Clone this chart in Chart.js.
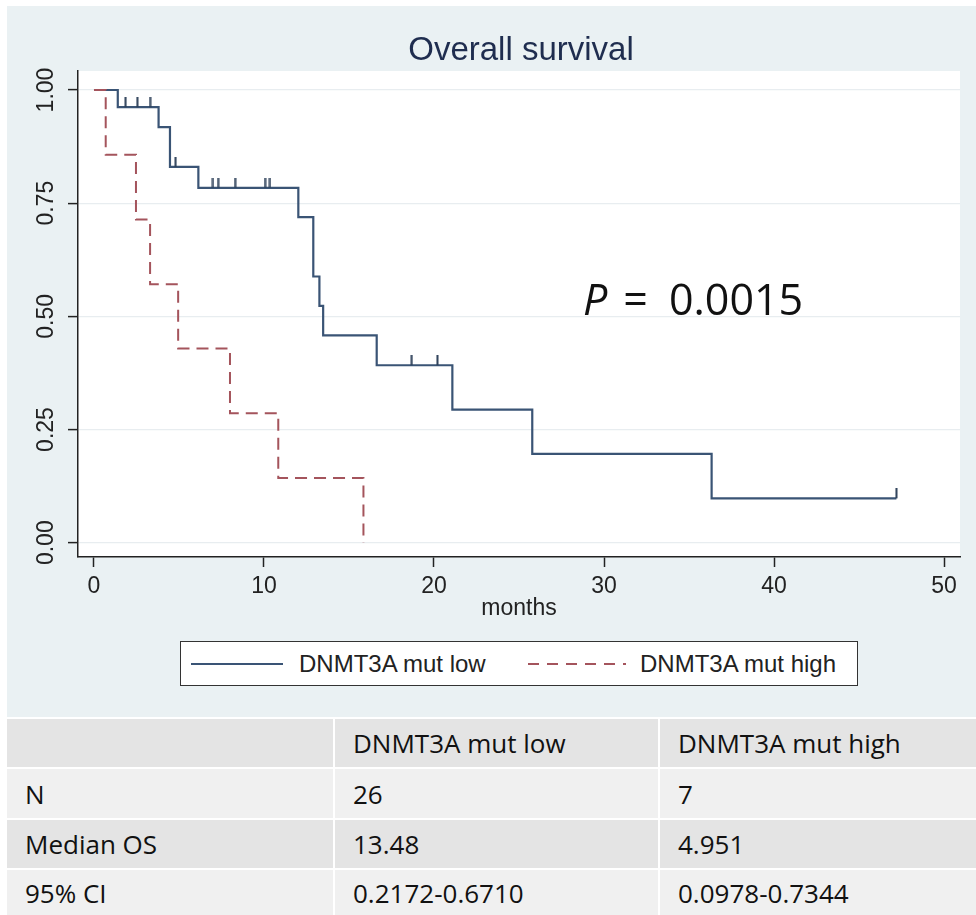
<!DOCTYPE html>
<html>
<head>
<meta charset="utf-8">
<script src="https://cdn.jsdelivr.net/npm/chart.js@4.4.0/dist/chart.umd.min.js"></script>
<style>
body { margin: 0; width: 976px; height: 915px; position: relative; overflow: hidden; background: #fff; font-family: "Liberation Sans", Arial, sans-serif; }
#graph { position: absolute; left: 7px; top: 6px; width: 969px; height: 711px; background: #eaf1f3; }
#wrap { position: absolute; left: 0; top: 0; width: 976px; height: 640px; }
#title { position: absolute; left: 80px; width: 882px; top: 32px; text-align: center; font-size: 33px; line-height: 33px; color: #1f2d4f; }
#pval { position: absolute; left: 583px; top: 277px; font-family: "Open Sans", sans-serif; font-size: 43px; line-height: 43px; color: #111; white-space: pre; }
#pval .eq { margin-left: 16px; margin-right: 21px; }
#legend { position: absolute; left: 180px; top: 641px; width: 676px; height: 43px; border: 1.5px solid #333; background: #fff; font-size: 24px; color: #222; }
#legend svg { position: absolute; top: 0; }
#legend span { position: absolute; top: 8px; line-height: 27px; }
#table { position: absolute; left: 7px; top: 719px; display: grid; grid-template-columns: 326px 323px 316px; grid-template-rows: 48px 49px 48px 45px; gap: 2px; font-family: "Open Sans", sans-serif; font-size: 26px; color: #111; }
#table div { display: flex; align-items: center; padding-left: 18px; background: #f0f0f0; }
#table div.dark { background: #e4e4e4; }
</style>
</head>
<body>
<div id="graph"></div>
<div id="wrap"><canvas id="km" width="976" height="640"></canvas></div>
<div id="title">Overall survival</div>
<div id="pval"><i>P</i><span class="eq">=</span>0.0015</div>
<div id="legend">
  <svg width="676" height="43"><line x1="10" y1="22" x2="102" y2="22" stroke="#3a5475" stroke-width="2"/><line x1="347" y1="22" x2="445" y2="22" stroke="#a4545c" stroke-width="2" stroke-dasharray="11 8"/></svg>
  <span style="left:118px">DNMT3A mut low</span>
  <span style="left:459px">DNMT3A mut high</span>
</div>
<div id="table"></div>
<script>
// Kaplan-Meier steps (months, survival)
const lowTimes = [0, 1.4, 3.8, 4.47, 6.14, 12.02, 12.9, 13.26, 13.48, 16.63, 21.08, 25.78, 36.33, 47.2];
const lowSurv = [1, 0.962, 0.918, 0.830, 0.784, 0.719, 0.588, 0.523, 0.458, 0.392, 0.294, 0.196, 0.098, 0.098];
const lowCensorTimes = [1.86, 2.55, 3.3, 4.8, 7.0, 7.3, 8.3, 10.06, 10.35, 18.69, 20.2, 47.2];
const lowCensorSurv = [0.962, 0.962, 0.962, 0.830, 0.784, 0.784, 0.784, 0.784, 0.784, 0.392, 0.392, 0.098];
const highTimes = [0, 0.69, 2.47, 3.3, 4.951, 8.0, 10.84, 15.85];
const highSurv = [1, 0.857, 0.714, 0.571, 0.429, 0.286, 0.143, 0];

const xTicks = [0, 10, 20, 30, 40, 50];
const yTicks = [0, 0.25, 0.5, 0.75, 1];

const tableHead = ['', 'DNMT3A mut low', 'DNMT3A mut high'];
const tableRows = [
  ['N', '26', '7'],
  ['Median OS', '13.48', '4.951'],
  ['95% CI', '0.2172-0.6710', '0.0978-0.7344']
];

const blue = '#3a5475';
const red = '#a4545c';

const table = document.getElementById('table');
[tableHead].concat(tableRows).forEach((row, i) => {
  row.forEach(txt => {
    const cell = document.createElement('div');
    if (i % 2 === 0) cell.className = 'dark';
    cell.textContent = txt;
    table.appendChild(cell);
  });
});

function toPoints(xs, ys) {
  return xs.map((x, i) => ({ x: x, y: ys[i] }));
}

// censor mark: short vertical tick sitting on top of the curve
const tick = document.createElement('canvas');
tick.width = 3;
tick.height = 20;
const tctx = tick.getContext('2d');
tctx.fillStyle = '#2c3f58';
tctx.fillRect(0.5, 0, 2, 10);

const plotBg = {
  id: 'plotBg',
  beforeDraw(chart) {
    const a = chart.chartArea;
    const ctx = chart.ctx;
    ctx.save();
    ctx.fillStyle = '#fff';
    ctx.fillRect(a.left, a.top, a.right - a.left, a.bottom - a.top);
    ctx.restore();
  }
};

// y tick labels are rotated in the original
const yLabels = {
  id: 'yLabels',
  afterDraw(chart) {
    const scale = chart.scales.y;
    const ctx = chart.ctx;
    ctx.save();
    ctx.fillStyle = '#222';
    ctx.font = '23px "Liberation Sans", Arial, sans-serif';
    ctx.textAlign = 'center';
    ctx.textBaseline = 'middle';
    scale.ticks.forEach(t => {
      const y = scale.getPixelForValue(t.value);
      ctx.save();
      ctx.translate(47, y);
      ctx.rotate(-Math.PI / 2);
      ctx.fillText(t.value.toFixed(2), 0, 0);
      ctx.restore();
    });
    ctx.restore();
  }
};

const ctx = document.getElementById('km').getContext('2d');
new Chart(ctx, {
  type: 'line',
  data: {
    datasets: [
      {
        label: 'censored',
        data: toPoints(lowCensorTimes, lowCensorSurv),
        showLine: false,
        pointStyle: tick,
        pointRadius: 5
      },
      {
        label: 'DNMT3A mut high',
        data: toPoints(highTimes, highSurv),
        stepped: true,
        borderColor: red,
        borderWidth: 2,
        borderDash: [12, 7],
        pointRadius: 0,
        fill: false
      },
      {
        label: 'DNMT3A mut low',
        data: toPoints(lowTimes, lowSurv),
        stepped: true,
        borderColor: blue,
        borderWidth: 2.2,
        pointRadius: 0,
        fill: false
      }
    ]
  },
  options: {
    responsive: false,
    animation: false,
    layout: { padding: { left: 0, top: 71, right: 16, bottom: 0 } },
    plugins: { legend: { display: false }, tooltip: { enabled: false } },
    scales: {
      x: {
        type: 'linear',
        min: -0.94,
        max: 50.94,
        afterBuildTicks: (axis) => { axis.ticks = xTicks.map(v => ({ value: v })); },
        afterFit: (axis) => { axis.height = 83; },
        grid: { drawOnChartArea: false, drawTicks: true, tickLength: 10, tickColor: '#222', tickWidth: 1.5 },
        border: { display: true, color: '#222', width: 1.5 },
        ticks: { color: '#222', padding: 6, font: { family: '"Liberation Sans", Arial, sans-serif', size: 23 } },
        title: { display: true, text: 'months', color: '#222', padding: { top: 0, bottom: 18 }, font: { family: '"Liberation Sans", Arial, sans-serif', size: 23 } }
      },
      y: {
        type: 'linear',
        min: -0.0316,
        max: 1.042,
        afterBuildTicks: (axis) => { axis.ticks = yTicks.map(v => ({ value: v })); },
        afterFit: (axis) => { axis.width = 78; },
        grid: { color: '#e8edf0', lineWidth: 1.2, drawTicks: true, tickLength: 10, tickColor: '#222', tickWidth: 1.5 },
        border: { display: true, color: '#222', width: 1.5 },
        ticks: { display: false }
      }
    }
  },
  plugins: [plotBg, yLabels]
});
</script>
</body>
</html>
